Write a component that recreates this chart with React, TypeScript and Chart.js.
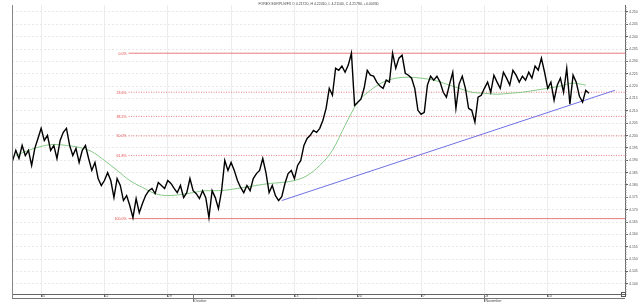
import React, { useEffect, useRef } from "react";
import { Chart, registerables } from "chart.js";
Chart.register(...registerables);

const titleText = "FOREX EURPLN/FX O 4.21720, H 4.22410, L 4.21100, C 4.21780, +0.00330";

// price series (4h-ish bars), x in trading days from the first labelled tick
const priceStartDay = -2.25;
const priceStepDays = 0.25;
const priceValues = [
  4.1899, 4.1940, 4.1907, 4.1960, 4.1919, 4.1940, 4.1879, 4.1948, 4.1988, 4.2029,
  4.1980, 4.2001, 4.1940, 4.1960, 4.1907, 4.1980, 4.2013, 4.2029, 4.1960, 4.1919,
  4.1948, 4.1891, 4.1940, 4.1960, 4.1907, 4.1859, 4.1891, 4.1826, 4.1798, 4.1818,
  4.1850, 4.1818, 4.1749, 4.1826, 4.1798, 4.1737, 4.1757, 4.1717, 4.1668, 4.1745,
  4.1688, 4.1725, 4.1757, 4.1777, 4.1786, 4.1765, 4.1810, 4.1798, 4.1786, 4.1818,
  4.1806, 4.1786, 4.1769, 4.1798, 4.1749, 4.1769, 4.1826, 4.1777, 4.1765, 4.1745,
  4.1777, 4.1749, 4.1668, 4.1777, 4.1749, 4.1704, 4.1777, 4.1899, 4.1859, 4.1891,
  4.1859, 4.1818, 4.1790, 4.1769, 4.1798, 4.1777, 4.1826, 4.1846, 4.1859, 4.1907,
  4.1850, 4.1769, 4.1798, 4.1757, 4.1737, 4.1753, 4.1806, 4.1846, 4.1859, 4.1826,
  4.1879, 4.1899, 4.1960, 4.1988, 4.2001, 4.2021, 4.2013, 4.2029, 4.2062, 4.2110,
  4.2191, 4.2163, 4.2272, 4.2264, 4.2281, 4.2256, 4.2285, 4.2333, 4.2122, 4.2135,
  4.2147, 4.2191, 4.2264, 4.2244, 4.2240, 4.2216, 4.2200, 4.2191, 4.2224, 4.2216,
  4.2333, 4.2272, 4.2313, 4.2325, 4.2252, 4.2244, 4.2232, 4.2191, 4.2102, 4.2086,
  4.2094, 4.2204, 4.2240, 4.2224, 4.2240, 4.2216, 4.2175, 4.2155, 4.2208, 4.2256,
  4.2110, 4.2208, 4.2240, 4.2191, 4.2110, 4.2102, 4.2054, 4.2155, 4.2163, 4.2191,
  4.2216, 4.2175, 4.2244, 4.2216, 4.2191, 4.2256, 4.2232, 4.2204, 4.2264, 4.2244,
  4.2216, 4.2240, 4.2224, 4.2256, 4.2232, 4.2281, 4.2264, 4.2313, 4.2256, 4.2191,
  4.2216, 4.2143, 4.2204, 4.2232, 4.2175, 4.2272, 4.2127, 4.2244, 4.2216, 4.2159,
  4.2135, 4.2183, 4.2171,
];

// moving average, one value per trading day
const maStartDay = -2;
const maStepDays = 1;
const maValues = [
  4.1919, 4.1940, 4.1956, 4.1964, 4.1960, 4.1952, 4.1935, 4.1899, 4.1859, 4.1818,
  4.1790, 4.1765, 4.1757, 4.1761, 4.1769, 4.1777, 4.1777, 4.1782, 4.1790, 4.1798,
  4.1806, 4.1810, 4.1818, 4.1838, 4.1879, 4.1940, 4.2041, 4.2135, 4.2183, 4.2216,
  4.2232, 4.2236, 4.2232, 4.2224, 4.2208, 4.2191, 4.2175, 4.2171, 4.2167, 4.2171,
  4.2175, 4.2183, 4.2191, 4.2200, 4.2212, 4.2204,
];

const tickDays = [0, 5, 10, 15, 20, 25, 30, 35, 40];
const tickLabels = ["15", "22", "29", "06", "13", "20", "27", "03", "10"];
const monthDays = [12, 35];
const monthLabels = ["October", "November"];

const fibLevels = [0, 23.6, 38.2, 50, 61.8, 100];
const fibLabels = ["0.0%", "23.6%", "38.2%", "50.0%", "61.8%", "100.0%"];
const fibHigh = 4.2333;
const fibLow = 4.1664;
const fibStartDay = 6.9;

const trendDays = [19.0, 45.3];
const trendValues = [4.1737, 4.2183];

const xMin = -2.3;
const xMax = 46.1;
const yMin = 4.1359;
const yMax = 4.2528;
const yStep = 0.005;

const FONT = "'Liberation Sans', Arial, sans-serif";
const FIB_COLOR = "rgba(225,70,70,0.7)";

const extrasPlugin = {
  id: "extras",
  afterDraw(chart: any) {
    const { ctx, chartArea } = chart;
    const xs = chart.scales.x;
    const ys = chart.scales.y;
    ctx.save();
    ctx.strokeStyle = "#888";
    ctx.lineWidth = 1;
    ctx.beginPath();
    ctx.moveTo(chartArea.left + 0.5, chartArea.top);
    ctx.lineTo(chartArea.left + 0.5, chartArea.bottom + 4);
    ctx.stroke();
    ctx.fillStyle = "#444";
    ctx.font = `3.5px ${FONT}`;
    ctx.textAlign = "center";
    ctx.textBaseline = "middle";
    ctx.fillText(titleText, (chartArea.left + chartArea.right) / 2, 4);
    ctx.fillStyle = "rgb(225,60,60)";
    ctx.textAlign = "right";
    const fx = xs.getPixelForValue(fibStartDay);
    fibLevels.forEach((lv, i) => {
      const v = fibHigh - (fibHigh - fibLow) * lv / 100;
      ctx.fillText(fibLabels[i], fx - 2, ys.getPixelForValue(v) + 0.5);
    });
    ctx.strokeStyle = "#888";
    ctx.beginPath();
    const start = Math.ceil(yMin / 0.001);
    const end = Math.floor(yMax / 0.001);
    for (let k = start; k <= end; k++) {
      const py = Math.round(ys.getPixelForValue(k * 0.001)) + 0.5;
      ctx.moveTo(chartArea.right, py);
      ctx.lineTo(chartArea.right + 1.5, py);
    }
    ctx.stroke();
    const bandTop = chartArea.bottom + 4;
    ctx.strokeStyle = "#777";
    ctx.beginPath();
    ctx.moveTo(chartArea.left, bandTop + 0.5);
    ctx.lineTo(chartArea.right, bandTop + 0.5);
    monthDays.forEach((d) => {
      const px = Math.round(xs.getPixelForValue(d)) + 0.5;
      ctx.moveTo(px, chartArea.bottom);
      ctx.lineTo(px, chartArea.bottom + 8);
    });
    ctx.stroke();
    ctx.fillStyle = "#444";
    ctx.textAlign = "left";
    monthDays.forEach((d, i) => {
      ctx.fillText(monthLabels[i], xs.getPixelForValue(d) + 1, bandTop + 3);
    });
    ctx.strokeStyle = "#555";
    ctx.strokeRect(chartArea.right - 3.5, chartArea.bottom - 1.5, 4, 4);
    ctx.restore();
  },
};

export default function App() {
  const ref = useRef<HTMLCanvasElement | null>(null);
  useEffect(() => {
    const prevMargin = document.body.style.margin;
    document.body.style.margin = "0";
    const pricePts = priceValues.map((v, i) => ({ x: priceStartDay + i * priceStepDays, y: v }));
    const maPts = maValues.map((v, i) => ({ x: maStartDay + i * maStepDays, y: v }));
    const fibSets = fibLevels.map((lv, i) => {
      const v = fibHigh - (fibHigh - fibLow) * lv / 100;
      const solid = lv === 0 || lv === 100;
      return {
        label: fibLabels[i],
        data: [{ x: fibStartDay, y: v }, { x: xMax, y: v }],
        borderColor: FIB_COLOR,
        borderWidth: 1,
        borderDash: solid ? [] : [1, 1.5],
        pointRadius: 0,
        order: 5,
      };
    });
    const chart = new Chart(ref.current as HTMLCanvasElement, {
      type: "line",
      data: {
        datasets: [
          {
            label: "price",
            data: pricePts,
            borderColor: "#000",
            borderWidth: 1.4,
            pointRadius: 0,
            tension: 0,
            order: 1,
          },
          {
            label: "ma",
            data: maPts,
            borderColor: "#86c986",
            borderWidth: 1,
            pointRadius: 0,
            cubicInterpolationMode: "monotone",
            order: 3,
          },
          {
            label: "trend",
            data: trendDays.map((d, i) => ({ x: d, y: trendValues[i] })),
            borderColor: "#7070e6",
            borderWidth: 1,
            pointRadius: 0,
            order: 2,
          },
          ...fibSets,
        ] as any,
      },
      options: {
        responsive: false,
        animation: false,
        devicePixelRatio: 1,
        layout: { padding: { left: 12, top: 5, right: 0, bottom: 0 } },
        plugins: { legend: { display: false }, tooltip: { enabled: false }, title: { display: false } },
        scales: {
          x: {
            type: "linear",
            min: xMin,
            max: xMax,
            afterBuildTicks: (s: any) => {
              s.ticks = tickDays.map((d) => ({ value: d }));
            },
            afterFit: (s: any) => {
              s.height = 8;
            },
            grid: { color: "#ececec", tickLength: 3, tickColor: "#666" },
            border: { color: "#666" },
            ticks: {
              align: "start",
              padding: -3,
              maxRotation: 0,
              autoSkip: false,
              color: "#444",
              font: { size: 3.5, family: FONT },
              callback: (v: any) => {
                const i = tickDays.indexOf(Number(v));
                return i >= 0 ? tickLabels[i] : "";
              },
            },
          },
          y: {
            type: "linear",
            position: "right",
            min: yMin,
            max: yMax,
            afterFit: (s: any) => {
              s.width = 15;
            },
            grid: { color: "#e8e8e8", tickLength: 3, tickColor: "#666" },
            border: { color: "#666", dash: [2, 2] },
            ticks: {
              stepSize: yStep,
              includeBounds: false,
              padding: 1,
              color: "#555",
              font: { size: 3.5, family: FONT },
              callback: (v: any) => Number(v).toFixed(3),
            },
          },
        },
      },
      plugins: [extrasPlugin],
    } as any);
    return () => {
      chart.destroy();
      document.body.style.margin = prevMargin;
    };
  }, []);
  return (
    <div style={{ position: "fixed", left: 0, top: 0, width: 640, height: 302, background: "#fff" }}>
      <canvas ref={ref} width={640} height={302} style={{ display: "block" }} />
    </div>
  );
}
